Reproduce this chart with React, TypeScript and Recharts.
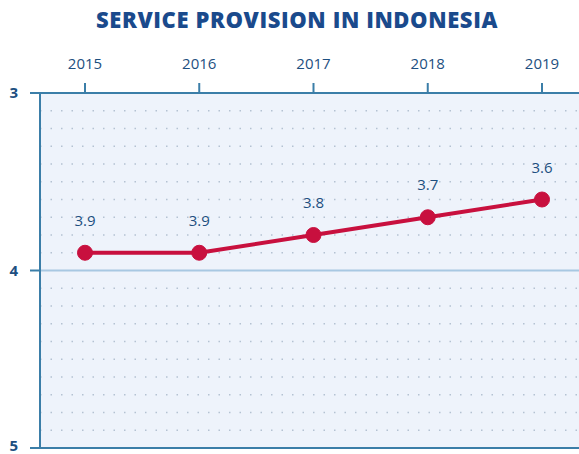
import { CartesianGrid, LabelList, Line, LineChart, ReferenceLine, XAxis, YAxis } from "recharts";

// Service provision score per year (lower is better, axis reversed)
const years = ["2015", "2016", "2017", "2018", "2019"];
const scores = [3.9, 3.9, 3.8, 3.7, 3.6];
const yTicks = [3, 4, 5];
const gridValues = [3.1, 3.2, 3.3, 3.4, 3.5, 3.6, 3.7, 3.8, 3.9, 4.1, 4.2, 4.3, 4.4, 4.5, 4.6, 4.7, 4.8, 4.9];

const data = years.map((year, i) => ({ year, score: scores[i] }));

const NAVY = "#1d4f80";
const AXIS = "#3b7ea8";
const RED = "#c8103e";

export default function App() {
    return (
        <div style={{ position: "absolute", left: 0, top: 0, width: 579, height: 454, fontFamily: "'Open Sans', sans-serif" }}>
            <div
                style={{
                    position: "absolute",
                    top: 4,
                    left: 0,
                    width: 594,
                    textAlign: "center",
                    fontSize: 22,
                    fontWeight: 800,
                    color: "#1a4a8c",
                    letterSpacing: 0.6,
                }}
            >
                SERVICE PROVISION IN INDONESIA
            </div>
            <LineChart width={579} height={454} data={data} margin={{ top: 50, right: 0, bottom: 6, left: 0 }}>
                <CartesianGrid fill="#eef3fb" horizontal={false} vertical={false} />
                {gridValues.map((v) => (
                    <ReferenceLine key={v} y={v} stroke="#b4c2d2" strokeDasharray="1.5 9" strokeWidth={1.3} />
                ))}
                <ReferenceLine y={4} stroke="#a8c8e2" strokeWidth={2} />
                <ReferenceLine y={5} stroke={AXIS} strokeWidth={2} />
                <XAxis
                    dataKey="year"
                    orientation="top"
                    height={43}
                    padding={{ left: 45, right: 37 }}
                    axisLine={{ stroke: AXIS, strokeWidth: 2 }}
                    tickLine={{ stroke: AXIS, strokeWidth: 2 }}
                    tickSize={10}
                    tickMargin={14}
                    tick={{ fill: NAVY, fontSize: 15 }}
                />
                <YAxis
                    reversed
                    domain={[3, 5]}
                    ticks={yTicks}
                    width={40}
                    axisLine={{ stroke: AXIS, strokeWidth: 2 }}
                    tickLine={{ stroke: AXIS, strokeWidth: 2 }}
                    tickSize={10}
                    tickMargin={12}
                    tick={{ fill: NAVY, fontSize: 15, fontWeight: 700 }}
                />
                <Line
                    dataKey="score"
                    stroke={RED}
                    strokeWidth={4}
                    dot={{ r: 7.5, fill: RED, stroke: RED, strokeWidth: 1 }}
                    isAnimationActive={false}
                >
                    <LabelList dataKey="score" position="top" offset={27} fill={NAVY} fontSize={15} />
                </Line>
            </LineChart>
        </div>
    );
}
